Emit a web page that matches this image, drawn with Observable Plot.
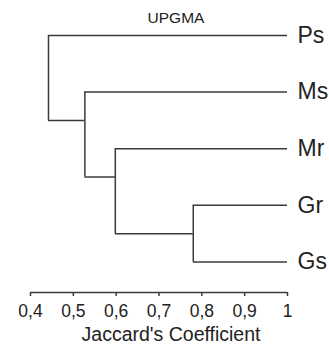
<!DOCTYPE html>
<html>
<head>
<meta charset="utf-8">
<script src="https://cdn.jsdelivr.net/npm/d3@7"></script>
<script src="https://cdn.jsdelivr.net/npm/@observablehq/plot@0.6"></script>
<style>
  html, body { margin: 0; padding: 0; background: #fff; }
  #chart svg { display: block; }
</style>
</head>
<body>
<div id="chart"></div>
<script>
// Leaves (top to bottom)
const leaves = ["Ps", "Ms", "Mr", "Gr", "Gs"];
// Merges (UPGMA clusters), Jaccard coefficient at which they join
const nodeNames = ["GrGs", "MrGrGs", "MsMrGrGs", "root"];
const nodeHeights = [0.78, 0.598, 0.527, 0.442];
const nodeTop = ["Gr", "Mr", "Ms", "Ps"];
const nodeBottom = ["Gs", "GrGs", "MrGrGs", "MsMrGrGs"];
const nodeJoin = [3.5, 2.5, 1.5, null]; // row position where the cluster attaches to its parent
// Axis
const xTicks = [0.4, 0.5, 0.6, 0.7, 0.8, 0.9, 1];
const xTickLabels = ["0,4", "0,5", "0,6", "0,7", "0,8", "0,9", "1"];
const title = "UPGMA";
const xLabel = "Jaccard's Coefficient";

// build positions
const pos = {};
leaves.forEach((l, i) => pos[l] = {y: i, h: 1});
nodeNames.forEach((n, i) => pos[n] = {y: nodeJoin[i], h: nodeHeights[i]});
const parent = {};
nodeNames.forEach((n, i) => { parent[nodeTop[i]] = n; parent[nodeBottom[i]] = n; });

const horiz = [];
[...leaves, ...nodeNames].forEach(k => {
  if (parent[k]) horiz.push({x1: pos[parent[k]].h, x2: pos[k].h, y: pos[k].y});
});
const vert = nodeNames.map((n, i) => ({x: nodeHeights[i], y1: pos[nodeTop[i]].y, y2: pos[nodeBottom[i]].y}));
const leafData = leaves.map((l, i) => ({label: l, y: i, x: 1}));

const yMax = 4.54;
const stroke = "#3a3a3a";
const font = "Liberation Sans, Arial, Helvetica, sans-serif";

const chart = Plot.plot({
  width: 329,
  height: 347,
  marginLeft: 30,
  marginRight: 42,
  marginTop: 35,
  marginBottom: 55,
  style: {fontFamily: font, background: "#fff", color: "#222"},
  x: {domain: [xTicks[0], xTicks[xTicks.length - 1]], label: null},
  y: {domain: [0, yMax], reverse: true, axis: null},
  marks: [
    Plot.ruleY(horiz, {x1: "x1", x2: "x2", y: "y", stroke, strokeWidth: 1.5}),
    Plot.ruleX(vert, {x: "x", y1: "y1", y2: "y2", stroke, strokeWidth: 1.5}),
    Plot.ruleY([yMax], {x1: xTicks[0], x2: xTicks[xTicks.length - 1], stroke, strokeWidth: 1.5}),
    Plot.axisX({ticks: xTicks, tickFormat: (d) => xTickLabels[xTicks.indexOf(d)], tickSize: 4, tickPadding: 8, fontSize: 17.5, stroke, strokeWidth: 1.5, label: null, fill: "#222"}),
    Plot.text(leafData, {x: "x", y: "y", text: "label", dx: 10, textAnchor: "start", lineAnchor: "middle", fontSize: 23, fill: "#222"}),
    Plot.text([title], {frameAnchor: "top", dx: 17, dy: -17, lineAnchor: "middle", fontSize: 15.5, fill: "#222"}),
    Plot.text([xLabel], {frameAnchor: "bottom", dx: 12, dy: 42, lineAnchor: "middle", fontSize: 19.5, fill: "#222"})
  ]
});
document.getElementById("chart").appendChild(chart);
</script>
</body>
</html>
